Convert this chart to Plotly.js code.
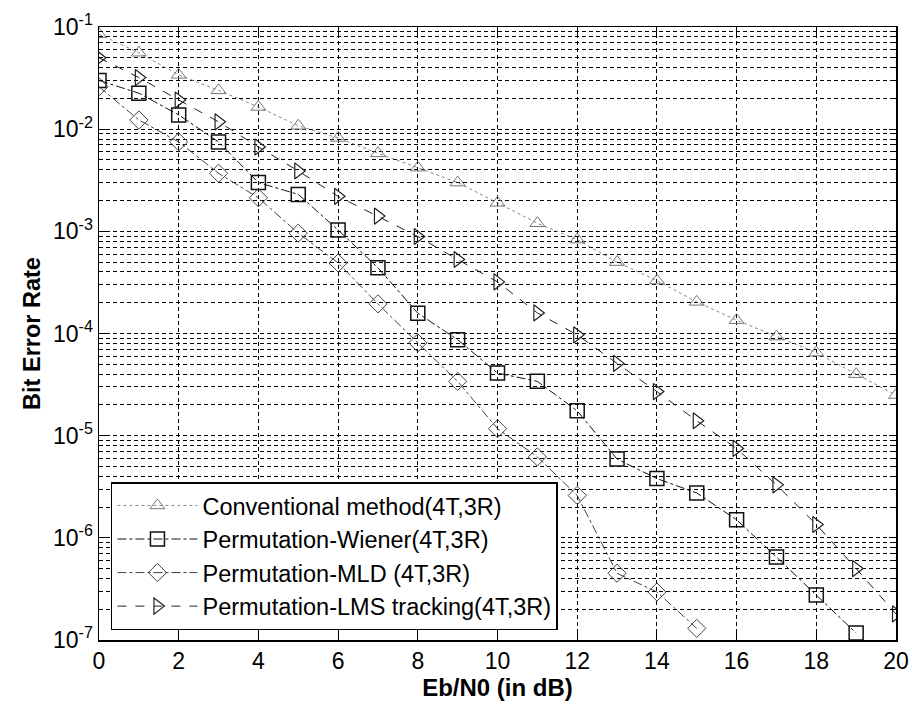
<!DOCTYPE html>
<html><head><meta charset="utf-8">
<script src="https://cdn.plot.ly/plotly-3.0.1.min.js"></script>
<style>body{margin:0;background:#fff}#g{width:912px;height:705px}</style>
</head><body><div id="g"></div>
<script>
const snr = [0,1,2,3,4,5,6,7,8,9,10,11,12,13,14,15,16,17,18,19,20];
const convBER = [0.085,0.056,0.034,0.024,0.0165,0.0108,0.0082,0.0058,0.0042,0.0030,0.0019,0.0012,0.00083,0.0005,0.00033,0.000204,0.000135,0.0000933,0.000065,0.00004,0.000025];
const wienerSNR = [0,1,2,3,4,5,6,7,8,9,10,11,12,13,14,15,16,17,18,19];
const wienerBER = [0.030,0.0225,0.0138,0.0075,0.0030,0.0023,0.00103,0.00044,0.000158,0.000087,0.000041,0.000034,0.0000175,0.0000059,0.0000038,0.00000275,0.0000015,0.00000065,0.000000275,0.000000117];
const mldSNR = [0,1,2,3,4,5,6,7,8,9,10,11,12,13,14,15];
const mldBER = [0.026,0.0123,0.0075,0.0037,0.00213,0.00096,0.00049,0.000195,0.000081,0.000034,0.0000117,0.0000062,0.0000026,0.00000045,0.000000295,0.00000013];
const lmsBER = [0.050,0.032,0.0193,0.0118,0.0067,0.0039,0.0022,0.00141,0.00089,0.00053,0.00032,0.000159,0.000097,0.000051,0.000027,0.000014,0.0000075,0.0000033,0.00000135,0.0000005,0.00000018];
const names = ['Conventional method(4T,3R)','Permutation-Wiener(4T,3R)','Permutation-MLD (4T,3R)','Permutation-LMS tracking(4T,3R)'];
const xTicks = [0,2,4,6,8,10,12,14,16,18,20];
const decades = [-7,-6,-5,-4,-3,-2,-1];

const yVals = decades.map(e=>Math.pow(10,e));
const yText = decades.map(e=>'10<sup>'+e+'</sup>');
const yMinor = [];
decades.slice(0,-1).forEach(e=>{ for (let m=2;m<=9;m++) yMinor.push(m*Math.pow(10,e)); });

const font = {family:'Liberation Sans, Arial, sans-serif', color:'#000'};
const traces = [
  {x:snr, y:convBER, name:names[0], mode:'lines+markers',
   line:{color:'#888', width:1, dash:'dot'},
   marker:{symbol:'triangle-up-open', size:13, color:'#777', line:{width:1,color:'#777'}}},
  {x:wienerSNR, y:wienerBER, name:names[1], mode:'lines+markers',
   line:{color:'#111', width:1, dash:'dashdot'},
   marker:{symbol:'square-open', size:14, color:'#111', line:{width:1.5,color:'#111'}}},
  {x:mldSNR, y:mldBER, name:names[2], mode:'lines+markers',
   line:{color:'#444', width:1, dash:'dashdot'},
   marker:{symbol:'diamond-open', size:14, color:'#444', line:{width:1,color:'#444'}}},
  {x:snr, y:lmsBER, name:names[3], mode:'lines+markers',
   line:{color:'#222', width:1, dash:'dash'},
   marker:{symbol:'triangle-right-open', size:14, color:'#222', line:{width:1.2,color:'#222'}}}
];
const layout = {
  width:912, height:705,
  margin:{l:99, r:16, t:27, b:65},
  paper_bgcolor:'#fff', plot_bgcolor:'#fff',
  font: Object.assign({size:22}, font),
  showlegend:true,
  legend:{x:0.015, y:0.016, xanchor:'left', yanchor:'bottom',
    bgcolor:'#fff', bordercolor:'#000', borderwidth:1.5,
    font:Object.assign({size:23.5}, font), tracegroupgap:0, itemwidth:80},
  xaxis:{range:[0,20], tickvals:xTicks, ticktext:xTicks.map(String),
    showline:true, linecolor:'#000', linewidth:1.5, mirror:'ticks',
    ticks:'inside', ticklen:7, tickcolor:'#000',
    showgrid:true, gridcolor:'#000', gridwidth:1, griddash:'4px,3px',
    zeroline:false, tickfont:Object.assign({size:23}, font),
    title:{text:'<b>Eb/N0 (in dB)</b>', font:Object.assign({size:24}, font), standoff:4}},
  yaxis:{type:'log', range:[-7,-1], tickvals:yVals, ticktext:yText,
    showline:true, linecolor:'#000', linewidth:1.5, mirror:'ticks',
    ticks:'inside', ticklen:7, tickcolor:'#000',
    showgrid:true, gridcolor:'#000', gridwidth:1, griddash:'4px,3px',
    minor:{tickvals:yMinor, ticks:'inside', ticklen:4, tickcolor:'#000',
      showgrid:true, gridcolor:'#000', gridwidth:1, griddash:'4px,3px'},
    zeroline:false, tickfont:Object.assign({size:23}, font),
    title:{text:'<b>Bit Error Rate</b>', font:Object.assign({size:23.5}, font), standoff:6}}
};
Plotly.newPlot('g', traces, layout, {staticPlot:true});
</script></body></html>
